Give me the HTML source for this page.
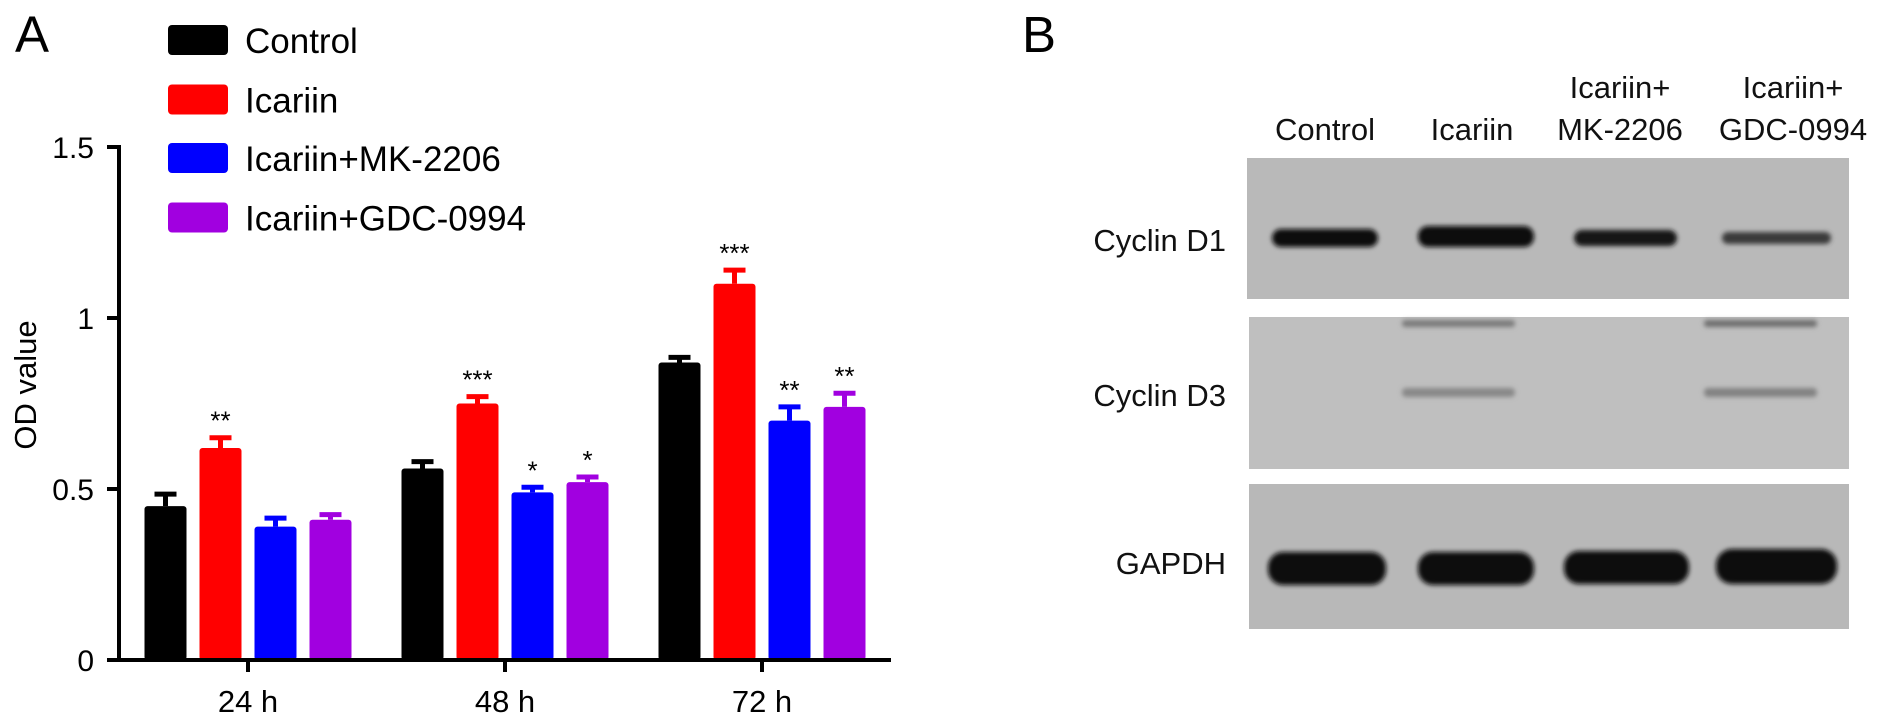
<!DOCTYPE html>
<html><head><meta charset="utf-8"><style>
body{margin:0;background:#fff;}
svg{display:block;font-family:"Liberation Sans",Arial,sans-serif;}
</style></head><body>
<svg id="fig" width="1890" height="728" viewBox="0 0 1890 728">
<defs>
<filter id="blur2"><feGaussianBlur stdDeviation="2.5"/></filter>
</defs>
<text x="15" y="52" font-size="51">A</text>
<text x="1022" y="52" font-size="51">B</text>
<g id="chart"></g>
<g id="legend"></g>
<g id="blot">
  <rect x="1247" y="158" width="602" height="141" fill="#b9b9b9"/>
  <rect x="1249" y="317" width="600" height="152" fill="#bfbfbf"/>
  <rect x="1249" y="484" width="600" height="145" fill="#b8b8b8"/>
  <g filter="url(#blur2)">
    <rect x="1272" y="229" width="106" height="18" rx="9" fill="#111"/>
    <rect x="1418" y="226" width="116" height="21" rx="10" fill="#0a0a0a"/>
    <rect x="1574" y="230" width="103" height="16" rx="8" fill="#181818"/>
    <rect x="1722" y="232" width="109" height="12" rx="6" fill="#3a3a3a"/>
    <rect x="1402" y="320" width="113" height="7" rx="3" fill="#7a7a7a"/>
    <rect x="1402" y="388" width="113" height="9" rx="4" fill="#888"/>
    <rect x="1704" y="320" width="113" height="7" rx="3" fill="#6e6e6e"/>
    <rect x="1704" y="388" width="113" height="9" rx="4" fill="#828282"/>
    <rect x="1268" y="552" width="118" height="33" rx="15" fill="#0a0a0a"/>
    <rect x="1418" y="552" width="116" height="33" rx="15" fill="#0a0a0a"/>
    <rect x="1564" y="551" width="125" height="33" rx="15" fill="#0a0a0a"/>
    <rect x="1716" y="549" width="121" height="35" rx="16" fill="#080808"/>
  </g>
  <g font-size="31" fill="#111">
    <text x="1325" y="140" text-anchor="middle">Control</text>
    <text x="1472" y="140" text-anchor="middle">Icariin</text>
    <text x="1620" y="98" text-anchor="middle"><tspan x="1620">Icariin+</tspan><tspan x="1620" dy="42">MK-2206</tspan></text>
    <text x="1793" y="98" text-anchor="middle"><tspan x="1793">Icariin+</tspan><tspan x="1793" dy="42">GDC-0994</tspan></text>
    <text x="1226" y="251" text-anchor="end">Cyclin D1</text>
    <text x="1226" y="406" text-anchor="end">Cyclin D3</text>
    <text x="1226" y="574" text-anchor="end">GAPDH</text>
  </g>
</g>
</svg>
<script>
const categories = ["24 h", "48 h", "72 h"];
const seriesNames = ["Control", "Icariin", "Icariin+MK-2206", "Icariin+GDC-0994"];
const seriesColors = ["#000000", "#ff0000", "#0000ff", "#a100e0"];
const controlVals = [0.45, 0.56, 0.87];
const icariinVals = [0.62, 0.75, 1.10];
const mkVals = [0.39, 0.49, 0.70];
const gdcVals = [0.41, 0.52, 0.74];
const controlErr = [0.035, 0.02, 0.015];
const icariinErr = [0.03, 0.02, 0.04];
const mkErr = [0.025, 0.015, 0.04];
const gdcErr = [0.015, 0.015, 0.04];
const controlSig = ["", "", ""];
const icariinSig = ["**", "***", "***"];
const mkSig = ["", "*", "**"];
const gdcSig = ["", "*", "**"];
const yTicks = [0, 0.5, 1, 1.5];
const yTickLabels = ["0", "0.5", "1", "1.5"];

const NS = "http://www.w3.org/2000/svg";
const chart = document.getElementById("chart");
const legend = document.getElementById("legend");
const x0 = 119, x1 = 891, y0 = 660, yTop = 147, yMax = 1.5;
function yScale(v){ return y0 - (v / yMax) * (y0 - yTop); }
const groupW = 257;
function groupCenter(i){ return 248 + i * groupW; }
const barW = 42, pitch = 55;
function barX(i, s){ return groupCenter(i) + (s - 1.5) * pitch - barW / 2; }
function mk(tag, attrs, parent){ const e = document.createElementNS(NS, tag); for (const k in attrs) e.setAttribute(k, attrs[k]); parent.appendChild(e); return e; }

const allVals = [controlVals, icariinVals, mkVals, gdcVals];
const allErr = [controlErr, icariinErr, mkErr, gdcErr];
const allSig = [controlSig, icariinSig, mkSig, gdcSig];

for (let s = 0; s < allVals.length; s++) {
  for (let i = 0; i < categories.length; i++) {
    const v = allVals[s][i], e = allErr[s][i];
    const bx = barX(i, s), top = yScale(v), cx = bx + barW / 2;
    const eTop = yScale(v + e);
    const err = mk("path", {d: `M${cx},${top} V${eTop} M${cx-11},${eTop} H${cx+11}`, stroke: seriesColors[s], "stroke-width": 5, fill: "none"}, chart);
    
    
    const r = mk("rect", {x: bx, y: top, width: barW, height: y0 - top, fill: seriesColors[s], rx: 3}, chart);
    
    
    if (allSig[s][i]) {
      const t = mk("text", {x: cx, y: eTop - 8, "text-anchor": "middle", "font-size": 26}, chart);
      t.textContent = allSig[s][i];
      
      
    }
  }
}
const yAxis = mk("path", {d: `M${x0},${yTop - 2} V${y0} H${x1}`, stroke: "#000", "stroke-width": 4, fill: "none"}, chart);


yTicks.forEach((v, k) => {
  const y = yScale(v);
  const tk = mk("line", {x1: x0 - 12, x2: x0, y1: y, y2: y, stroke: "#000", "stroke-width": 4}, chart);
  
  
  const t = mk("text", {x: x0 - 25, y: y + 11, "text-anchor": "end", "font-size": 30}, chart);
  t.textContent = yTickLabels[k];
  
  
});
categories.forEach((c, i) => {
  const cx = groupCenter(i);
  const tk = mk("line", {x1: cx, x2: cx, y1: y0, y2: y0 + 12, stroke: "#000", "stroke-width": 4}, chart);
  
  
  const t = mk("text", {x: cx, y: 712, "text-anchor": "middle", "font-size": 31}, chart);
  t.textContent = c;
  
  
});
const yt = mk("text", {x: 0, y: 0, "text-anchor": "middle", "font-size": 31, transform: "translate(36,385) rotate(-90)"}, chart);
yt.textContent = "OD value";



const legY = [40, 99.5, 158, 217.5];
seriesNames.forEach((n, s) => {
  const sw = mk("rect", {x: 168, y: legY[s] - 15, width: 60, height: 30, rx: 4, fill: seriesColors[s]}, legend);
  
  
  const t = mk("text", {x: 245, y: legY[s] + 13, "font-size": 35}, legend);
  t.textContent = n;
  
  
});
</script>
</body></html>
